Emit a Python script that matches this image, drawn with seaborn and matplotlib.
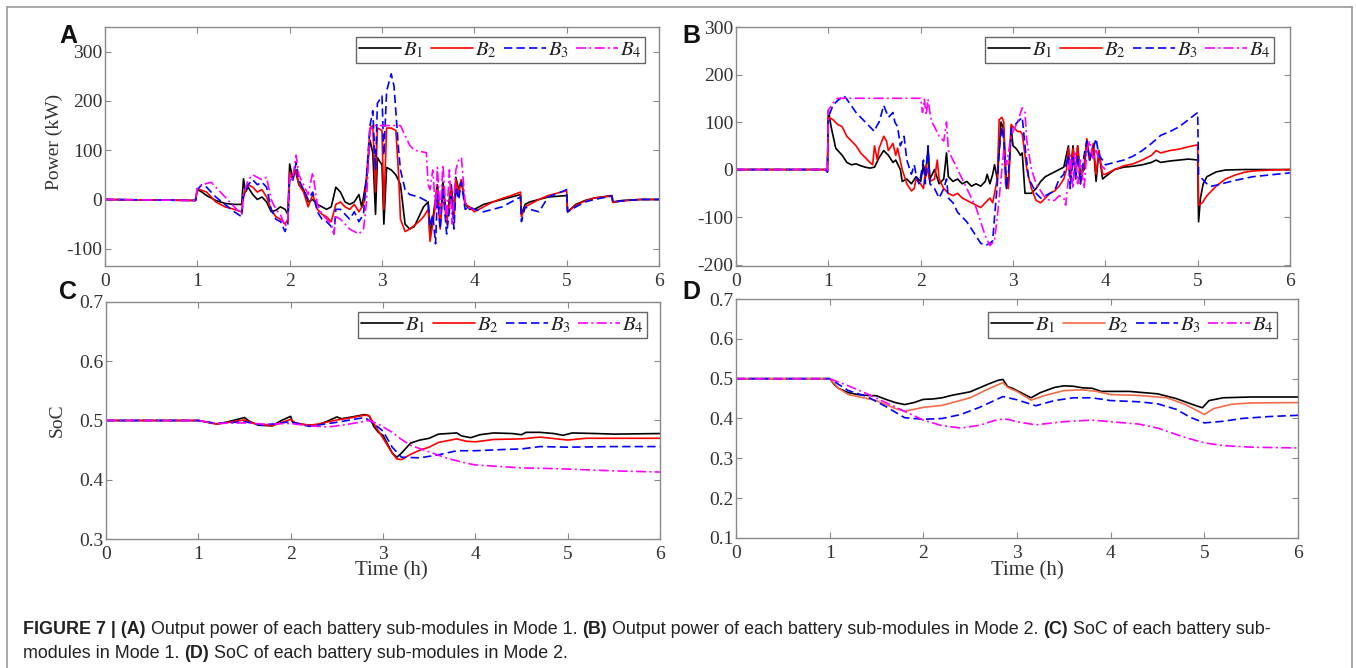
import matplotlib
matplotlib.use("Agg")
import matplotlib.pyplot as plt
import seaborn as sns
import pandas as pd
from matplotlib.lines import Line2D

# series names / legend text
series_names = ["B1", "B2", "B3", "B4"]
legend_labels = [r"$B_1$", r"$B_2$", r"$B_3$", r"$B_4$"]

# ---- (A) output power, Mode 1  (time h, kW)
a_b1 = [(0, 0), (0.98, -2), (1.0, 20), (1.05, 15), (1.1, 8), (1.2, -2), (1.3, -8), (1.4, -10), (1.48, -10),
        (1.5, 42), (1.52, 15), (1.55, 25), (1.6, 10), (1.65, 0), (1.7, 5), (1.75, -5), (1.8, -25), (1.85, -22),
        (1.9, -15), (1.95, -20), (1.98, -30), (2.0, 72), (2.03, 45), (2.06, 60), (2.1, 30), (2.15, 20), (2.2, -5),
        (2.25, 0), (2.3, -10), (2.35, -15), (2.4, -20), (2.45, -15), (2.5, 25), (2.55, 15), (2.6, -5), (2.65, -10),
        (2.7, -5), (2.75, 10), (2.78, -15), (2.8, 5), (2.83, 40), (2.87, 120), (2.9, 95), (2.93, -30), (2.95, 85),
        (3.0, 70), (3.02, -50), (3.05, 65), (3.1, 60), (3.15, 50), (3.2, 30), (3.25, -50), (3.3, -60), (3.35, -55),
        (3.4, -35), (3.45, -15), (3.5, -5), (3.52, -70), (3.55, -40), (3.6, 30), (3.63, -50), (3.66, 35), (3.7, -40),
        (3.75, 30), (3.78, -30), (3.8, 45), (3.83, 20), (3.86, 40), (3.9, -10), (3.95, -20), (4.0, -20), (4.1, -10),
        (4.2, -5), (4.3, 0), (4.4, 5), (4.5, 10), (4.51, -30), (4.55, -10), (4.6, -5), (4.7, 0), (4.8, 5), (5.0, 8),
        (5.01, -25), (5.1, -10), (5.2, -2), (5.3, 3), (5.49, 8), (5.5, -5), (5.6, -2), (5.8, 0), (6.0, 0)]
a_b2 = [(0, 0), (0.98, -2), (1.0, 22), (1.1, 15), (1.2, -5), (1.3, -15), (1.4, -20), (1.48, -25), (1.5, 10),
        (1.55, 30), (1.6, 25), (1.65, 15), (1.7, 20), (1.75, 5), (1.8, -20), (1.85, -35), (1.9, -40), (1.95, -50),
        (1.98, -40), (2.0, 55), (2.03, 40), (2.07, 60), (2.1, 30), (2.15, 15), (2.2, -15), (2.25, 10), (2.3, -20),
        (2.35, -30), (2.4, -35), (2.45, -45), (2.5, -10), (2.55, -5), (2.6, -15), (2.65, -20), (2.7, -10),
        (2.75, -25), (2.8, -10), (2.83, 30), (2.87, 145), (2.9, 150), (2.93, 15), (2.95, 145), (3.0, 140),
        (3.02, -20), (3.05, 145), (3.1, 145), (3.15, 140), (3.18, 50), (3.2, -40), (3.25, -65), (3.3, -60),
        (3.4, -45), (3.45, -35), (3.5, -20), (3.52, -85), (3.55, -50), (3.6, 20), (3.63, -60), (3.66, 25),
        (3.7, -50), (3.75, 20), (3.78, -40), (3.8, 40), (3.83, 10), (3.86, 40), (3.9, -10), (3.95, -15), (4.0, -25),
        (4.1, -15), (4.2, -5), (4.3, 2), (4.4, 8), (4.5, 15), (4.51, -35), (4.55, -15), (4.6, -10), (4.7, 0),
        (4.8, 8), (5.0, 18), (5.01, -25), (5.1, -12), (5.2, -3), (5.3, 3), (5.49, 7), (5.5, -6), (5.6, -3),
        (5.8, 0), (6.0, 0)]
a_b3 = [(0, 0), (0.98, -2), (1.0, 20), (1.05, 30), (1.1, 25), (1.2, 5), (1.3, -10), (1.4, -25), (1.48, -35),
        (1.5, 5), (1.55, 30), (1.6, 40), (1.65, 30), (1.7, 35), (1.75, 25), (1.8, -20), (1.85, -40), (1.9, -45),
        (1.95, -65), (1.98, -50), (2.0, 40), (2.03, 35), (2.07, 75), (2.1, 40), (2.15, 20), (2.2, 0), (2.25, 15),
        (2.3, -25), (2.35, -40), (2.4, -45), (2.45, -55), (2.48, -70), (2.5, -20), (2.55, -20), (2.6, -30),
        (2.65, -40), (2.7, -25), (2.75, -45), (2.8, -30), (2.83, 40), (2.87, 150), (2.9, 180), (2.93, 60),
        (2.95, 195), (3.0, 210), (3.02, 90), (3.05, 220), (3.1, 255), (3.13, 230), (3.18, 100), (3.2, 60),
        (3.25, 20), (3.3, 10), (3.4, 5), (3.5, -5), (3.52, -55), (3.55, -30), (3.58, -90), (3.6, 10), (3.63, -60),
        (3.66, 20), (3.7, -70), (3.75, 10), (3.78, -60), (3.8, 25), (3.83, 0), (3.86, 35), (3.9, -20), (3.95, -15),
        (4.0, -20), (4.1, -25), (4.2, -20), (4.3, -15), (4.4, -5), (4.5, 5), (4.51, -45), (4.55, -15), (4.6, -20),
        (4.7, -25), (4.8, 5), (4.9, 12), (5.0, 20), (5.01, -25), (5.1, -15), (5.2, -5), (5.3, 0), (5.49, 7),
        (5.5, -5), (5.6, -3), (5.8, 0), (6.0, 0)]
a_b4 = [(0, 0), (0.98, -2), (1.0, 25), (1.05, 30), (1.15, 35), (1.2, 25), (1.3, 5), (1.4, -15), (1.48, -30),
        (1.5, 10), (1.55, 40), (1.6, 50), (1.65, 45), (1.7, 40), (1.75, 45), (1.8, 0), (1.85, -20), (1.9, -30),
        (1.95, -55), (1.98, -45), (2.0, 50), (2.03, 40), (2.07, 90), (2.1, 50), (2.15, 30), (2.2, 10), (2.25, 55),
        (2.3, -10), (2.35, -30), (2.4, -40), (2.45, -50), (2.48, -70), (2.5, -35), (2.55, -40), (2.6, -50),
        (2.65, -60), (2.7, -65), (2.75, -70), (2.8, -60), (2.83, -10), (2.87, 140), (2.9, 150), (3.0, 150),
        (3.1, 150), (3.2, 150), (3.25, 130), (3.3, 110), (3.35, 100), (3.48, 95), (3.5, 30), (3.52, 20),
        (3.55, 60), (3.58, -20), (3.6, 65), (3.63, -30), (3.66, 70), (3.7, -40), (3.73, 60), (3.76, -50),
        (3.8, 60), (3.83, 80), (3.86, 85), (3.88, 40), (3.9, -5), (3.95, -20), (4.0, -20)]

# ---- (B) output power, Mode 2
b_b1 = [(0, 0), (0.97, 0), (0.99, -5), (1.0, 125), (1.03, 90), (1.08, 45), (1.15, 30), (1.2, 15), (1.25, 10),
        (1.3, 12), (1.35, 8), (1.4, 5), (1.45, 3), (1.5, 5), (1.55, 25), (1.6, 40), (1.65, 30), (1.7, 15),
        (1.73, 20), (1.78, 0), (1.8, -25), (1.85, -20), (1.9, -30), (1.95, -15), (2.0, -25), (2.03, 10),
        (2.05, -20), (2.08, 45), (2.1, -20), (2.15, 0), (2.2, -30), (2.25, -20), (2.28, 35), (2.3, -15),
        (2.35, -25), (2.4, -20), (2.45, -30), (2.5, -25), (2.55, -35), (2.6, -30), (2.65, -35), (2.7, -25),
        (2.72, -10), (2.75, -30), (2.78, -10), (2.8, 10), (2.83, -20), (2.87, 100), (2.9, 85), (2.93, -40),
        (2.95, -30), (2.98, 90), (3.0, 50), (3.03, 45), (3.05, 40), (3.08, 30), (3.1, 35), (3.13, -50),
        (3.2, -50), (3.25, -40), (3.3, -25), (3.35, -15), (3.4, -10), (3.5, 0), (3.55, 5), (3.6, 50), (3.62, -10),
        (3.65, 50), (3.68, -20), (3.7, 50), (3.73, -10), (3.77, 0), (3.8, 60), (3.83, 20), (3.87, 50), (3.9, -25),
        (3.93, 40), (3.97, -20), (4.0, -15), (4.1, 0), (4.2, 5), (4.3, 7), (4.4, 10), (4.5, 15), (4.55, 20),
        (4.6, 15), (4.7, 18), (4.8, 20), (4.9, 22), (5.0, 20), (5.01, -110), (5.03, -60), (5.06, -30), (5.1, -15),
        (5.2, -5), (5.3, -1), (5.5, 0), (6.0, 0)]
b_b2 = [(0, 0), (0.97, 0), (0.99, -5), (1.0, 110), (1.05, 105), (1.1, 95), (1.15, 90), (1.2, 70), (1.25, 60),
        (1.3, 50), (1.35, 35), (1.4, 25), (1.45, 15), (1.48, 10), (1.5, 50), (1.53, 20), (1.55, 45), (1.6, 70),
        (1.63, 60), (1.65, 40), (1.7, 55), (1.73, 30), (1.75, 45), (1.8, 0), (1.85, -30), (1.9, -45), (1.93, -40),
        (1.95, -20), (2.0, -30), (2.03, -40), (2.06, 10), (2.1, -25), (2.15, -20), (2.18, 20), (2.2, -20),
        (2.25, -40), (2.3, -50), (2.35, -55), (2.4, -50), (2.45, -60), (2.5, -65), (2.55, -70), (2.6, -75),
        (2.65, -80), (2.7, -70), (2.75, -60), (2.78, -70), (2.8, -50), (2.83, -20), (2.85, 105), (2.88, 110),
        (2.9, 100), (2.92, -30), (2.95, -40), (2.98, 95), (3.0, 90), (3.05, 80), (3.08, 80), (3.1, 75), (3.13, 30),
        (3.15, 0), (3.2, -40), (3.25, -65), (3.3, -70), (3.35, -60), (3.4, -50), (3.45, -45), (3.5, -35),
        (3.55, -20), (3.58, 0), (3.6, 45), (3.62, -20), (3.65, 45), (3.68, -10), (3.7, 50), (3.73, -30), (3.77, 10),
        (3.8, 65), (3.83, 20), (3.87, 55), (3.9, -10), (3.93, 40), (3.97, -10), (4.0, -10), (4.1, 0), (4.2, 8),
        (4.3, 12), (4.4, 20), (4.5, 30), (4.55, 40), (4.6, 35), (4.7, 40), (4.8, 43), (4.9, 48), (5.0, 52),
        (5.01, -75), (5.05, -70), (5.1, -55), (5.2, -35), (5.3, -20), (5.4, -12), (5.5, -6), (5.6, -3), (5.8, -1),
        (6.0, 0)]
b_b3 = [(0, 0), (0.97, 0), (0.99, -5), (1.0, 110), (1.05, 135), (1.1, 145), (1.17, 155), (1.2, 148), (1.3, 120),
        (1.4, 100), (1.5, 80), (1.52, 90), (1.55, 100), (1.6, 135), (1.63, 120), (1.65, 110), (1.7, 120),
        (1.72, 100), (1.75, 90), (1.78, 50), (1.82, 70), (1.85, 20), (1.9, -10), (1.93, 10), (1.95, -10),
        (1.98, -30), (2.0, -15), (2.03, 20), (2.05, -30), (2.08, 50), (2.1, -30), (2.15, -40), (2.2, -60),
        (2.25, -40), (2.28, -20), (2.3, -60), (2.35, -70), (2.4, -90), (2.5, -110), (2.6, -140), (2.65, -155),
        (2.7, -160), (2.75, -155), (2.78, -150), (2.8, -100), (2.83, -30), (2.85, 40), (2.88, 90), (2.9, 60),
        (2.93, -40), (2.96, 10), (2.98, 85), (3.0, 90), (3.05, 100), (3.1, 110), (3.13, 50), (3.17, -20),
        (3.2, -30), (3.25, -50), (3.3, -60), (3.35, -55), (3.4, -50), (3.45, -45), (3.5, -20), (3.55, -10),
        (3.6, 30), (3.62, -40), (3.65, 25), (3.68, -20), (3.7, 30), (3.73, -30), (3.77, 30), (3.8, 60), (3.83, 20),
        (3.87, 45), (3.9, 65), (3.93, 30), (3.97, 20), (4.0, 10), (4.1, 15), (4.2, 20), (4.3, 28), (4.4, 40),
        (4.5, 55), (4.6, 72), (4.7, 80), (4.8, 90), (4.9, 105), (5.0, 120), (5.01, -10), (5.05, -20), (5.1, -30),
        (5.15, -35), (5.2, -33), (5.3, -28), (5.4, -23), (5.5, -19), (5.6, -15), (5.8, -11), (6.0, -7)]
b_b4 = [(0, 0), (0.97, 0), (0.99, -5), (1.0, 125), (1.05, 140), (1.1, 150), (2.0, 150), (2.02, 120),
        (2.04, 148), (2.06, 115), (2.08, 148), (2.1, 120), (2.12, 100), (2.15, 90), (2.2, 70), (2.25, 60),
        (2.28, 100), (2.3, 40), (2.35, 20), (2.4, 0), (2.45, -20), (2.5, -40), (2.55, -60), (2.6, -80),
        (2.65, -110), (2.7, -140), (2.75, -160), (2.8, -150), (2.83, -100), (2.87, -20), (2.9, 40), (2.93, 10),
        (2.97, 60), (3.0, 80), (3.05, 100), (3.1, 130), (3.13, 120), (3.15, 60), (3.2, 0), (3.25, -30),
        (3.3, -45), (3.35, -60), (3.4, -65), (3.45, -65), (3.5, -55), (3.55, -60), (3.57, -75), (3.6, -20),
        (3.62, 30), (3.65, -40), (3.67, 35), (3.7, -30), (3.73, 20), (3.77, -40), (3.8, 40), (3.83, 60),
        (3.87, 20), (3.9, 40), (3.95, 10), (4.0, 0)]

# ---- (C) SoC, Mode 1
c_b1 = [(0, 0.5), (1.0, 0.5), (1.1, 0.497), (1.2, 0.494), (1.3, 0.497), (1.4, 0.501), (1.5, 0.505),
        (1.55, 0.499), (1.65, 0.492), (1.8, 0.491), (1.9, 0.500), (2.0, 0.507), (2.02, 0.497), (2.1, 0.494),
        (2.2, 0.492), (2.3, 0.493), (2.4, 0.499), (2.5, 0.506), (2.55, 0.503), (2.7, 0.507), (2.8, 0.510),
        (2.85, 0.508), (2.9, 0.490), (2.95, 0.480), (3.0, 0.475), (3.05, 0.460), (3.1, 0.445), (3.15, 0.438),
        (3.2, 0.445), (3.3, 0.462), (3.4, 0.467), (3.5, 0.470), (3.6, 0.477), (3.7, 0.478), (3.8, 0.479),
        (3.85, 0.474), (3.95, 0.471), (4.05, 0.476), (4.2, 0.479), (4.4, 0.478), (4.5, 0.476), (4.55, 0.480),
        (4.7, 0.480), (4.85, 0.478), (4.95, 0.475), (5.05, 0.479), (5.3, 0.478), (5.5, 0.477), (6.0, 0.478)]
c_b2 = [(0, 0.5), (1.0, 0.5), (1.2, 0.494), (1.5, 0.501), (1.6, 0.495), (1.8, 0.491), (2.0, 0.502),
        (2.05, 0.496), (2.2, 0.492), (2.3, 0.494), (2.5, 0.501), (2.6, 0.503), (2.8, 0.509), (2.85, 0.508),
        (2.9, 0.495), (3.0, 0.470), (3.1, 0.445), (3.15, 0.435), (3.2, 0.434), (3.3, 0.443), (3.4, 0.450),
        (3.5, 0.455), (3.6, 0.463), (3.8, 0.469), (3.9, 0.465), (4.0, 0.464), (4.2, 0.468), (4.5, 0.469),
        (4.7, 0.472), (5.0, 0.467), (5.2, 0.470), (5.5, 0.470), (6.0, 0.470)]
c_b3 = [(0, 0.5), (1.0, 0.5), (1.2, 0.495), (1.5, 0.498), (1.7, 0.492), (2.0, 0.498), (2.2, 0.490),
        (2.5, 0.497), (2.8, 0.505), (2.9, 0.495), (3.0, 0.482), (3.1, 0.455), (3.2, 0.438), (3.4, 0.437),
        (3.6, 0.442), (3.8, 0.449), (4.0, 0.449), (4.3, 0.451), (4.5, 0.452), (4.7, 0.456), (5.0, 0.455),
        (5.5, 0.456), (6.0, 0.456)]
c_b4 = [(0, 0.5), (1.0, 0.5), (1.2, 0.495), (1.5, 0.496), (1.7, 0.494), (2.0, 0.495), (2.2, 0.491),
        (2.4, 0.489), (2.6, 0.493), (2.85, 0.500), (2.95, 0.494), (3.1, 0.480), (3.2, 0.468), (3.3, 0.458),
        (3.5, 0.447), (3.7, 0.436), (3.9, 0.428), (4.0, 0.425), (4.3, 0.422), (4.5, 0.420), (4.8, 0.419),
        (5.0, 0.418), (5.5, 0.415), (6.0, 0.413)]

# ---- (D) SoC, Mode 2
d_b1 = [(0, 0.5), (1.0, 0.5), (1.05, 0.485), (1.1, 0.475), (1.2, 0.465), (1.3, 0.460), (1.4, 0.458),
        (1.5, 0.457), (1.6, 0.448), (1.7, 0.440), (1.8, 0.435), (1.9, 0.440), (2.0, 0.448), (2.1, 0.449),
        (2.2, 0.452), (2.3, 0.458), (2.5, 0.467), (2.7, 0.487), (2.8, 0.496), (2.85, 0.498), (2.9, 0.480),
        (2.95, 0.476), (3.0, 0.470), (3.15, 0.452), (3.25, 0.465), (3.4, 0.478), (3.5, 0.482), (3.6, 0.481),
        (3.7, 0.477), (3.8, 0.476), (3.9, 0.468), (4.0, 0.468), (4.2, 0.468), (4.5, 0.462), (4.7, 0.450),
        (4.9, 0.433), (4.98, 0.427), (5.05, 0.445), (5.2, 0.452), (5.5, 0.454), (6.0, 0.454)]
d_b2 = [(0, 0.5), (1.0, 0.5), (1.1, 0.475), (1.2, 0.460), (1.4, 0.450), (1.5, 0.445), (1.6, 0.435),
        (1.7, 0.425), (1.8, 0.418), (2.0, 0.428), (2.2, 0.433), (2.5, 0.452), (2.7, 0.475), (2.85, 0.490),
        (2.9, 0.478), (3.0, 0.468), (3.15, 0.446), (3.3, 0.458), (3.5, 0.470), (3.7, 0.472), (3.85, 0.468),
        (4.0, 0.460), (4.3, 0.458), (4.6, 0.452), (4.8, 0.435), (5.0, 0.410), (5.1, 0.425), (5.3, 0.436),
        (5.5, 0.439), (6.0, 0.440)]
d_b3 = [(0, 0.5), (1.0, 0.5), (1.2, 0.470), (1.4, 0.455), (1.6, 0.430), (1.8, 0.402), (2.0, 0.398),
        (2.2, 0.400), (2.4, 0.410), (2.6, 0.428), (2.85, 0.455), (3.0, 0.447), (3.2, 0.432), (3.4, 0.445),
        (3.6, 0.452), (3.8, 0.452), (4.0, 0.445), (4.3, 0.442), (4.5, 0.437), (4.7, 0.423), (4.85, 0.403),
        (5.0, 0.389), (5.2, 0.393), (5.4, 0.400), (5.7, 0.405), (6.0, 0.408)]
d_b4 = [(0, 0.5), (1.0, 0.5), (1.2, 0.482), (1.4, 0.462), (1.6, 0.440), (1.8, 0.418), (2.0, 0.396),
        (2.2, 0.382), (2.4, 0.376), (2.6, 0.383), (2.8, 0.398), (2.9, 0.398), (3.0, 0.392), (3.2, 0.384),
        (3.5, 0.392), (3.8, 0.396), (4.0, 0.392), (4.3, 0.386), (4.5, 0.376), (4.8, 0.352), (5.0, 0.339),
        (5.2, 0.332), (5.5, 0.328), (6.0, 0.326)]

x_ticks = [0, 1, 2, 3, 4, 5, 6]
power_a_ticks = [-100, 0, 100, 200, 300]
power_b_ticks = [-200, -100, 0, 100, 200, 300]
soc_c_ticks = [0.3, 0.4, 0.5, 0.6, 0.7]
soc_d_ticks = [0.1, 0.2, 0.3, 0.4, 0.5, 0.6, 0.7]

caption_line1 = [("FIGURE 7 | (A)", "bold"), (" Output power of each battery sub-modules in Mode 1. ", "normal"),
                 ("(B)", "bold"), (" Output power of each battery sub-modules in Mode 2. ", "normal"),
                 ("(C)", "bold"), (" SoC of each battery sub-", "normal")]
caption_line2 = [("modules in Mode 1. ", "normal"), ("(D)", "bold"),
                 (" SoC of each battery sub-modules in Mode 2.", "normal")]

sns.set_theme(style="ticks")
plt.rcParams["font.family"] = ["Liberation Serif", "DejaVu Serif"]
plt.rcParams["mathtext.fontset"] = "stix"
plt.rcParams["axes.unicode_minus"] = False

W, H = 1356, 668
fig = plt.figure(figsize=(W / 100, H / 100), dpi=100)


def px_box(l, t, r, b):
    return [l / W, 1 - b / H, (r - l) / W, (b - t) / H]


dash_map = {"B1": "", "B2": "", "B3": (5, 2.5), "B4": (6, 2, 1.2, 2)}


def draw_panel(ax, data, colors, xlim, ylim, yticks, legend_corner):
    frames = []
    for name, pts in zip(series_names, data):
        t, v = zip(*pts)
        frames.append(pd.DataFrame({"time": t, "value": v, "series": name}))
    df = pd.concat(frames, ignore_index=True)
    pal = dict(zip(series_names, colors))
    sns.lineplot(data=df, x="time", y="value", hue="series", style="series",
                 palette=pal, dashes=dash_map, estimator=None, sort=False,
                 linewidth=1.2, ax=ax, legend=False)
    ax.set_xlim(*xlim)
    ax.set_ylim(*ylim)
    ax.set_xticks(x_ticks)
    ax.set_yticks(yticks)
    ax.set_xlabel("")
    ax.set_ylabel("")
    for s in ax.spines.values():
        s.set_visible(True)
        s.set_color("#8a8a8a")
        s.set_linewidth(1.0)
    ax.tick_params(direction="in", top=True, right=True, length=4, width=0.8,
                   color="#8a8a8a", labelcolor="#333333", labelsize=14, pad=2)
    ax.tick_params(axis="x", pad=5)
    handles = []
    for n, c in zip(series_names, colors):
        h = Line2D([], [], color=c, lw=1.2)
        if dash_map[n]:
            h.set_dashes(dash_map[n])
        handles.append(h)
    leg = ax.legend(handles, legend_labels, ncol=4, loc="upper right",
                    bbox_to_anchor=(legend_corner[0] / W, 1 - legend_corner[1] / H),
                    bbox_transform=fig.transFigure, borderaxespad=0,
                    frameon=True, fancybox=False, framealpha=1, edgecolor="#666666",
                    fontsize=15, handlelength=2.0, handletextpad=0.1,
                    columnspacing=0.35, borderpad=0.15)
    leg.get_frame().set_linewidth(1.0)
    for txt in leg.get_texts():
        txt.set_color("#222222")


std_colors = ["#000000", "#ff0000", "#0000ff", "#ff00ff"]
d_colors = ["#000000", "#f26b47", "#0000ff", "#ff00ff"]

ax_a = fig.add_axes(px_box(105, 27, 659, 266))
draw_panel(ax_a, [a_b1, a_b2, a_b3, a_b4], std_colors, (0, 6), (-135, 350), power_a_ticks, (645, 37))
ax_a.set_ylabel("Power (kW)", fontsize=14, color="#333333")
ax_a.yaxis.set_label_coords(-0.075, 0.52)

ax_b = fig.add_axes(px_box(736, 27, 1290, 266))
draw_panel(ax_b, [b_b1, b_b2, b_b3, b_b4], std_colors, (0, 6), (-203, 300), power_b_ticks, (1274, 37))

ax_c = fig.add_axes(px_box(106, 302, 660, 539))
draw_panel(ax_c, [c_b1, c_b2, c_b3, c_b4], std_colors, (0, 6), (0.3, 0.7), soc_c_ticks, (647, 312))
ax_c.set_ylabel("SoC", fontsize=14, color="#333333")
ax_c.yaxis.set_label_coords(-0.072, 0.5)
ax_c.set_xlabel("Time (h)", fontsize=15, color="#333333")
ax_c.xaxis.set_label_coords(0.516, -0.092)

ax_d = fig.add_axes(px_box(736, 299, 1298, 538))
draw_panel(ax_d, [d_b1, d_b2, d_b3, d_b4], d_colors, (0, 6), (0.1, 0.7), soc_d_ticks, (1277, 312))
ax_d.set_xlabel("Time (h)", fontsize=15, color="#333333")
ax_d.xaxis.set_label_coords(0.518, -0.098)

# panel letters
for letter, (lx, ly) in zip("ABCD", [(59, 36), (682, 36), (59, 292), (682, 292)]):
    fig.text(lx / W, 1 - ly / H, letter, ha="left", va="center", fontsize=18,
             fontweight="bold", family=["Liberation Sans", "DejaVu Sans"], color="#111111")

# outer frame of the figure
frame_kw = dict(color="#9a9a9a", lw=1.2, transform=fig.transFigure)
fig.add_artist(Line2D([7 / W, 7 / W], [0, 1 - 7 / H], **frame_kw))
fig.add_artist(Line2D([7 / W, 1352 / W], [1 - 7 / H, 1 - 7 / H], **frame_kw))
fig.add_artist(Line2D([1352 / W, 1352 / W], [0, 1 - 7 / H], **frame_kw))

# caption with bold run-ins
renderer = fig.canvas.get_renderer()


def draw_caption_line(pieces, x0, y0):
    x = x0
    for txt, wt in pieces:
        t = fig.text(x / W, 1 - y0 / H, txt, ha="left", va="baseline", fontsize=12.9,
                     fontweight=wt, family=["Liberation Sans", "DejaVu Sans"], color="#222222")
        x += t.get_window_extent(renderer=renderer).width


draw_caption_line(caption_line1, 23, 634)
draw_caption_line(caption_line2, 23, 658)

fig.savefig("out.png", dpi=100)
